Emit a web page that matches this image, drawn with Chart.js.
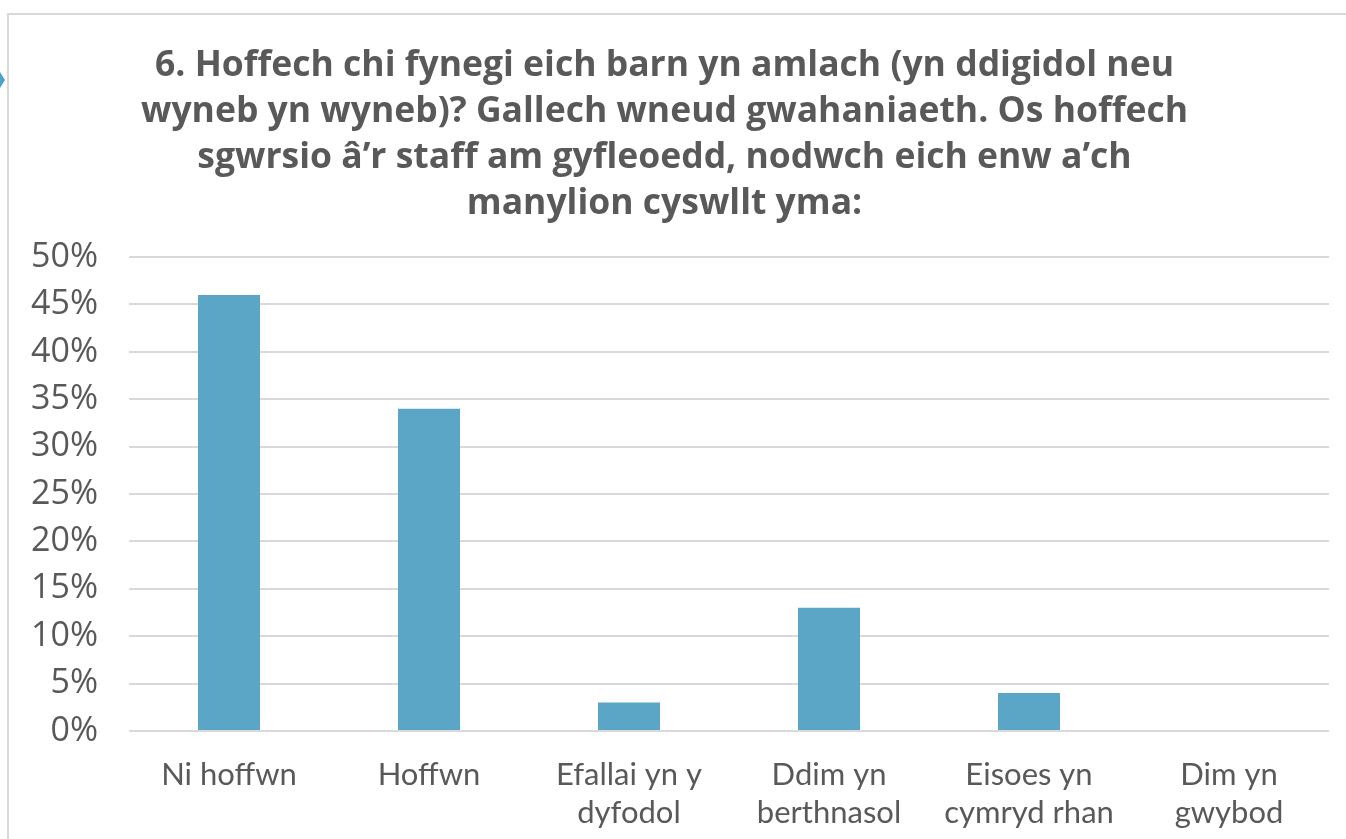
<!DOCTYPE html>
<html><head><meta charset="utf-8">
<script src="https://cdn.jsdelivr.net/npm/chart.js@4"></script>
<style>
html,body{margin:0;padding:0;background:#fff;width:1346px;height:839px;overflow:hidden;}
#wrap{position:absolute;left:0;top:0;width:1346px;height:839px;}
#frame{position:absolute;left:7px;top:13px;width:1346px;height:840px;border-left:2px solid #d9d9d9;border-top:2px solid #d9d9d9;pointer-events:none;}
#arrow{position:absolute;left:0;top:72px;width:0;height:0;border-top:8px solid transparent;border-bottom:8px solid transparent;border-left:5px solid #4ba3c3;}
</style></head>
<body>
<div id="wrap"><canvas id="c" width="1346" height="839"></canvas></div>
<div id="frame"></div>
<div id="arrow"></div>
<script>
const titleLines = ["6. Hoffech chi fynegi eich barn yn amlach (yn ddigidol neu","wyneb yn wyneb)? Gallech wneud gwahaniaeth. Os hoffech","sgwrsio â’r staff am gyfleoedd, nodwch eich enw a’ch","manylion cyswllt yma:"];
const categories = [["Ni hoffwn"],["Hoffwn"],["Efallai yn y","dyfodol"],["Ddim yn","berthnasol"],["Eisoes yn","cymryd rhan"],["Dim yn","gwybod"]];
const values = [46, 34, 3, 13, 4, 0];
const yTicks = [0,5,10,15,20,25,30,35,40,45,50];
const textColor = '#595959';

new Chart(document.getElementById('c'), {
  type: 'bar',
  data: { labels: categories, datasets: [{ data: values, backgroundColor: '#5ba6c6', barPercentage: 0.62, categoryPercentage: 0.5 }] },
  options: {
    responsive: false, animation: false,
    layout: { padding: { left: 0, right: 17, top: 0, bottom: 7 } },
    plugins: {
      legend: { display: false }, tooltip: { enabled: false },
      title: { display: true, text: titleLines, color: textColor, font: { family: '"Open Sans", sans-serif', size: 35.5, weight: 'bold', lineHeight: 1.296 }, padding: { top: 43, bottom: 30 } }
    },
    scales: {
      x: {
        afterFit: s => { s.height = 101; },
        grid: { display: false, drawTicks: false }, border: { display: false },
        ticks: { color: textColor, font: { family: 'Lato, sans-serif', size: 31, lineHeight: 1.226 }, padding: 25, maxRotation: 0, autoSkip: false }
      },
      y: {
        min: 0, max: 50,
        afterFit: s => { s.width = 129; },
        afterBuildTicks: s => { s.ticks = yTicks.map(v => ({ value: v })); },
        grid: { color: '#d9d9d9', lineWidth: 2, drawTicks: false }, border: { display: false },
        ticks: { color: textColor, font: { family: '"Open Sans", sans-serif', size: 34 }, padding: 31, callback: v => v + '%' }
      }
    }
  }
});
</script>
</body></html>
